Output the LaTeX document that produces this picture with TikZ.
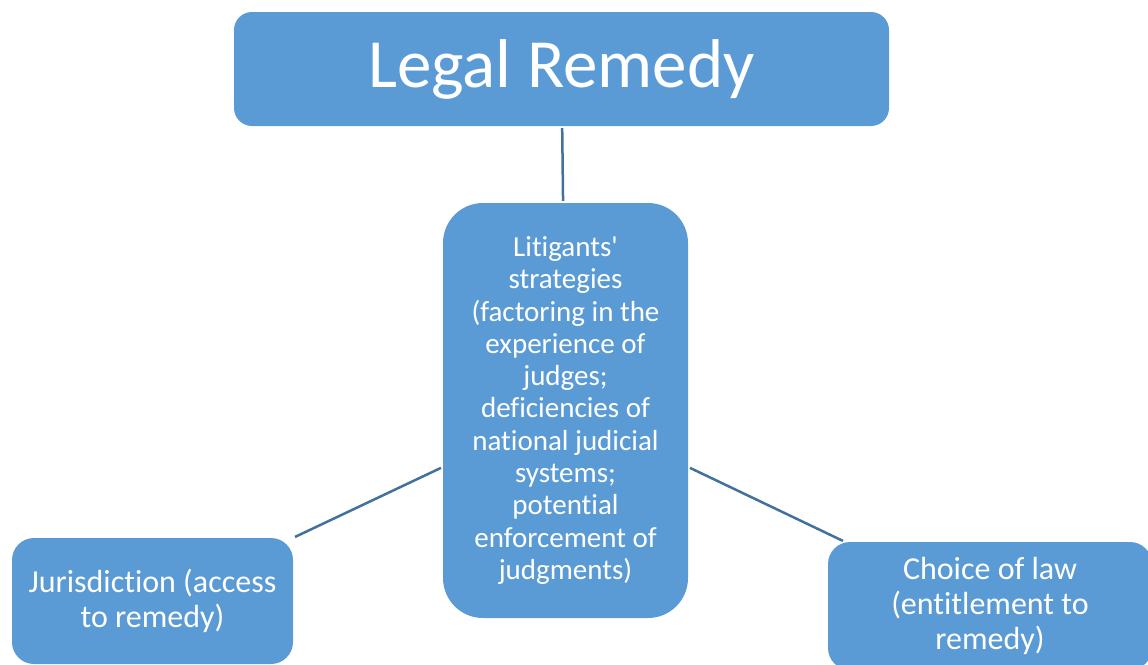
\documentclass[tikz,border=0pt]{standalone}
\usepackage{fontspec}
\setmainfont{Carlito}[Ligatures={NoCommon}]
\usepackage{tikz}
\usetikzlibrary{calc}
\definecolor{boxblue}{HTML}{5B9BD5}
\definecolor{lineblue}{HTML}{41719C}
\tikzstyle{topbox} = [rectangle, rounded corners=18pt, minimum width=655pt, minimum height=114pt, inner sep=0pt, text centered, fill=boxblue, text=white, font=\fontsize{69}{80}\selectfont]
\tikzstyle{midbox} = [rectangle, rounded corners=40pt, minimum width=245pt, minimum height=415pt, inner sep=0pt, align=center, fill=boxblue, text=white, font=\fontsize{29}{32.3}\selectfont]
\tikzstyle{sidebox} = [rectangle, rounded corners=22pt, inner sep=0pt, align=center, fill=boxblue, text=white, font=\fontsize{32}{35}\selectfont]
\tikzstyle{link} = [line width=2.5pt, lineblue, shorten <=2pt, shorten >=2pt]

\begin{document}
\begin{tikzpicture}[x=1pt, y=-1pt]
  \useasboundingbox (0,0) rectangle (1148,664);
  \clip (0,0) rectangle (1148,664);
  \node (remedy) [topbox] at (561.5,69) {Legal Remedy};
  \node (strategies) [midbox] at (565.5,410.5) {Litigants\textquotesingle\\strategies\\(factoring in the\\experience of\\judges;\\deficiencies of\\national judicial\\systems;\\potential\\enforcement of\\judgments)};
  \node (jurisdiction) [sidebox, minimum width=281pt, minimum height=126pt] at (152.5,601) {Jurisdiction (access\\to remedy)};
  \node (choice) [sidebox, minimum width=324pt, minimum height=128pt] at (990,606) {Choice of law\\(entitlement to\\remedy)};
  \draw [link] (remedy) -- (strategies);
  \draw [link] (jurisdiction.north east) -- ([yshift=-56.5pt]strategies.west);
  \draw [link] ([yshift=-56.5pt]strategies.east) -- ([xshift=17pt]choice.north west);
\end{tikzpicture}
\end{document}
